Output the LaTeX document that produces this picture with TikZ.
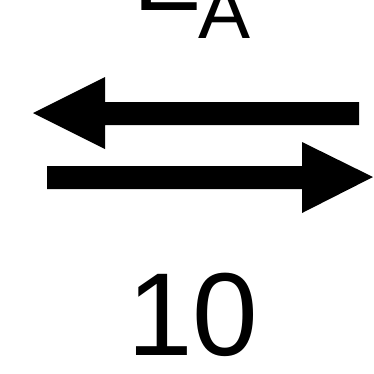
\documentclass[tikz,border=0pt]{standalone}
\usepackage{fontspec}
\setmainfont{Liberation Sans}
\begin{document}
\begin{tikzpicture}[x=1pt,y=-1pt,
  arrowshape/.style={fill=black,draw=none},
  bigtext/.style={inner sep=0pt,outer sep=0pt,text depth=0pt,font=\fontsize{118}{140}\selectfont},
  etext/.style={inner sep=0pt,outer sep=0pt,font=\fontsize{102}{120}\selectfont},
  subtext/.style={inner sep=0pt,outer sep=0pt,font=\fontsize{78}{92}\selectfont}]
\useasboundingbox (0,0) rectangle (374,373);
\clip (0,0) rectangle (374,373);
\fill[white] (0,0) rectangle (374,373);
% label E_A (cut at top)
\node[etext,anchor=base west] (E) at (133,10) {E};
\node[subtext,anchor=base west] (A) at (198,38) {A};
% left-pointing arrow
\path[arrowshape] (33,113) -- (105,77) -- (105,102) -- (359,102) -- (359,125) -- (105,125) -- (105,149) -- cycle;
% right-pointing arrow
\path[arrowshape] (373,177) -- (302,142) -- (302,166) -- (47,166) -- (47,189) -- (302,189) -- (302,213) -- cycle;
% number
\node[bigtext,anchor=base] (n) at (193,355) {10};
\end{tikzpicture}
\end{document}
